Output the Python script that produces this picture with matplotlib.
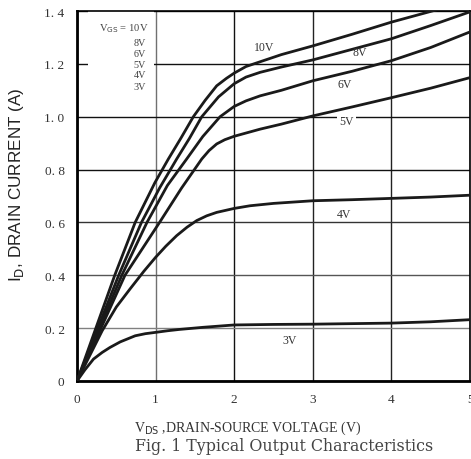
import matplotlib
matplotlib.use("Agg")
import matplotlib.pyplot as plt
from matplotlib.patches import Rectangle

# ---- data ----
vgs_labels = ["10V", "8V", "6V", "5V", "4V", "3V"]

vds_10 = [0, 0.24, 0.48, 0.74, 0.99, 1.162, 1.32, 1.48, 1.63, 1.777, 1.9, 2.0, 2.15, 2.33, 2.6, 3.0, 3.5, 4.0, 4.58]
id_10  = [0, 0.20, 0.40, 0.60, 0.75, 0.84, 0.918, 1.00, 1.062, 1.117, 1.145, 1.165, 1.19, 1.208, 1.235, 1.268, 1.312, 1.358, 1.405]

vds_8 = [0, 0.265, 0.53, 0.82, 1.05, 1.268, 1.43, 1.587, 1.8, 2.0, 2.15, 2.33, 2.6, 3.0, 3.5, 4.0, 4.5, 5.0]
id_8  = [0, 0.20, 0.40, 0.60, 0.73, 0.84, 0.918, 1.00, 1.075, 1.125, 1.15, 1.168, 1.188, 1.215, 1.255, 1.295, 1.345, 1.397]

vds_6 = [0, 0.285, 0.57, 0.89, 1.15, 1.395, 1.6, 1.82, 2.0, 2.15, 2.33, 2.6, 3.0, 3.5, 4.0, 4.5, 5.0]
id_6  = [0, 0.20, 0.40, 0.60, 0.74, 0.84, 0.925, 1.00, 1.039, 1.06, 1.079, 1.10, 1.136, 1.172, 1.212, 1.262, 1.321]

vds_5 = [0, 0.305, 0.61, 1.05, 1.33, 1.587, 1.68, 1.777, 1.88, 2.0, 2.33, 2.6, 3.0, 3.5, 4.0, 4.5, 5.0]
id_5  = [0, 0.20, 0.40, 0.60, 0.73, 0.84, 0.872, 0.897, 0.913, 0.926, 0.953, 0.972, 1.003, 1.037, 1.072, 1.108, 1.148]

vds_4 = [0, 0.32, 0.5, 0.674, 0.85, 1.0, 1.13, 1.268, 1.4, 1.523, 1.65, 1.777, 2.0, 2.2, 2.5, 3.0, 3.5, 4.0, 4.5, 5.0]
id_4  = [0, 0.19, 0.28, 0.348, 0.415, 0.468, 0.51, 0.550, 0.582, 0.607, 0.625, 0.638, 0.653, 0.663, 0.672, 0.682, 0.686, 0.691, 0.696, 0.703]

vds_3 = [0, 0.1, 0.21, 0.32, 0.42, 0.55, 0.74, 0.87, 1.0, 1.15, 1.3, 1.6, 2.0, 2.5, 3.0, 3.5, 4.0, 4.5, 5.0]
id_3  = [0, 0.042, 0.083, 0.108, 0.127, 0.148, 0.171, 0.179, 0.184, 0.19, 0.195, 0.203, 0.212, 0.214, 0.215, 0.217, 0.219, 0.224, 0.232]

x_ticks = [0, 1, 2, 3, 4, 5]
x_tick_labels = ["0", "1", "2", "3", "4", "5"]
y_ticks = [0, 0.2, 0.4, 0.6, 0.8, 1.0, 1.2, 1.4]
y_tick_labels = ["0", "0. 2", "0. 4", "0. 6", "0. 8", "1. 0", "1. 2", "1. 4"]

# curve label positions (data coords)
label_pos = {"10V": (2.38, 1.265), "8V": (3.6, 1.245), "6V": (3.4, 1.125),
             "5V": (3.43, 0.985), "4V": (3.4, 0.63), "3V": (2.7, 0.155)}

serif = "Liberation Serif"

fig = plt.figure(figsize=(4.71, 4.60), dpi=100)
ax = fig.add_axes([0.1635, 0.1696, 0.8345, 0.8043])
ax.set_xlim(0, 5)
ax.set_ylim(0, 1.4)

ax.set_xticks(x_ticks)
ax.set_xticklabels(x_tick_labels, fontfamily=serif, fontsize=9.5, color="#333333")
ax.set_yticks(y_ticks)
ax.set_yticklabels(y_tick_labels, fontfamily=serif, fontsize=9.5, color="#333333")
ax.tick_params(length=0, pad=9)

ax.grid(True, color="#111111", linewidth=1.0, zorder=1)
for gl, c in zip(ax.get_xgridlines(), ["#111111", "#707070", "#111111", "#222222", "#222222", "#111111"]):
    gl.set_color(c)
for gl, c in zip(ax.get_ygridlines(), ["#111111", "#808080", "#555555", "#333333", "#111111", "#111111", "#111111", "#111111"]):
    gl.set_color(c)
ax.set_axisbelow(True)

for s in ["left", "bottom"]:
    ax.spines[s].set_linewidth(2.0)
for s in ["top", "right"]:
    ax.spines[s].set_linewidth(1.2)

# legend box
ax.add_patch(Rectangle((0.14, 1.067), 0.845, 0.34, facecolor="white", edgecolor="none", zorder=2))
ax.text(0.598, 1.336, r"V$_{\mathrm{GS}}$ = 10V", fontfamily=serif, fontsize=7.6,
        ha="center", va="center", color="#444444", zorder=3)
legend_y = [1.279, 1.241, 1.199, 1.160, 1.116]
for lab, yy in zip(vgs_labels[1:], legend_y):
    ax.text(0.878, yy, lab, fontfamily=serif, fontsize=7.3, ha="right", va="center",
            color="#444444", zorder=3)

for xs, ys in [(vds_10, id_10), (vds_8, id_8), (vds_6, id_6), (vds_5, id_5), (vds_4, id_4), (vds_3, id_3)]:
    ax.plot(xs, ys, color="#1a1a1a", linewidth=2.0, zorder=4, solid_capstyle="round",
            solid_joinstyle="round", clip_on=True)

for lab in vgs_labels:
    x, y = label_pos[lab]
    kw = {}
    if lab == "5V":
        kw["bbox"] = dict(facecolor="white", edgecolor="none", pad=1.5)
    ax.text(x, y, lab, fontfamily=serif, fontsize=8.5, ha="center", va="center",
            color="#333333", zorder=5, **kw)

fig.text(0.525, 0.069, r"V$_{\mathrm{DS}}$ ,DRAIN-SOURCE VOLTAGE (V)", fontfamily=serif,
         fontsize=10, ha="center", va="center", color="#333333")
fig.text(0.603, 0.030, "Fig. 1 Typical Output Characteristics", fontfamily="DejaVu Serif",
         fontsize=11.4, ha="center", va="center", color="#444444")
fig.text(0.034, 0.598, r"I$_{\mathrm{D}}$, DRAIN CURRENT (A)", fontfamily="Liberation Sans",
         fontsize=12.3, rotation=90, ha="center", va="center", color="#222222")

fig.savefig("out.png", dpi=100)
